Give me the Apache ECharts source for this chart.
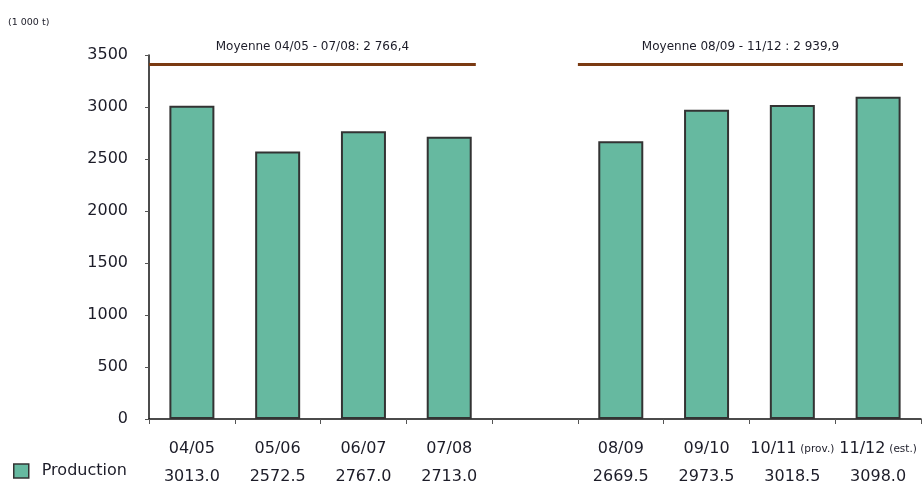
<!DOCTYPE html>
<html>
<head>
<meta charset="utf-8">
<script src="https://cdn.jsdelivr.net/npm/echarts@6/dist/echarts.min.js"></script>
<style>
  html, body { margin: 0; padding: 0; background: #ffffff; }
  #chart { width: 924px; height: 481px; }
</style>
</head>
<body>
<div id="chart"></div>
<script>
// Campaign years (an empty slot separates the two periods)
const categories = ['04/05', '05/06', '06/07', '07/08', '', '08/09', '09/10', '10/11', '11/12'];
const notes = ['', '', '', '', '', '', '', '(prov.)', '(est.)'];
// Production, thousand tonnes
const production = [3013.0, 2572.5, 2767.0, 2713.0, null, 2669.5, 2973.5, 3018.5, 3098.0];
// Period groupings for the averages
const periodNames = ['Moyenne 04/05 - 07/08: ', 'Moyenne 08/09 - 11/12 : '];
const periodIndices = [[0, 1, 2, 3], [5, 6, 7, 8]];

const FONT = 'DejaVu Sans, Verdana, sans-serif';
const TEXT = '#1c1c28';
const BAR = '#66b9a0';
const BROWN = '#7a3a12';

function frenchNumber(v) {
  const parts = v.toFixed(1).split('.');
  const intPart = parts[0].replace(/\B(?=(\d{3})+(?!\d))/g, ' ');
  return intPart + ',' + parts[1];
}

const averages = periodIndices.map(idx => idx.reduce((s, i) => s + production[i], 0) / idx.length);

// Horizontal brackets above each period (in category-width units), carrying the average
const bracketLevel = 3415;
const bracketSpans = [[0, 3.81], [5.0, 8.79]];

const bracketSeries = bracketSpans.map((span, k) => ({
  type: 'line',
  xAxisIndex: 1,
  data: [],
  silent: true,
  markLine: {
    silent: true,
    symbol: ['none', 'none'],
    lineStyle: { color: BROWN, width: 3, type: 'solid' },
    label: {
      show: true,
      position: 'insideMiddleTop',
      distance: 11,
      color: TEXT,
      fontSize: 12,
      fontFamily: FONT,
      formatter: periodNames[k] + frenchNumber(averages[k])
    },
    emphasis: { disabled: true },
    data: [[{ coord: [span[0], bracketLevel] }, { coord: [span[1], bracketLevel] }]]
  }
}));

const chart = echarts.init(document.getElementById('chart'));
chart.setOption({
  animation: false,
  backgroundColor: '#ffffff',
  textStyle: { fontFamily: FONT },
  grid: { left: 149, right: 3, top: 55, bottom: 62, containLabel: false, outerBoundsMode: 'none' },
  legend: {
    data: ['Production'],
    left: 13,
    top: 463,
    padding: 0,
    icon: 'rect',
    itemWidth: 15,
    itemHeight: 14,
    itemStyle: { color: BAR, borderColor: '#333333', borderWidth: 1.5 },
    textStyle: { color: TEXT, fontSize: 16, fontFamily: FONT, padding: [0, 0, 0, 8] }
  },
  graphic: [{
    type: 'text',
    left: 8,
    top: 18,
    style: { text: '(1 000 t)', fill: TEXT, fontSize: 9.5, fontFamily: FONT }
  }],
  xAxis: [{
    type: 'category',
    data: categories,
    boundaryGap: true,
    axisLine: { lineStyle: { color: '#111111', width: 1.5 } },
    axisTick: { show: true, interval: 0, length: 5, lineStyle: { color: '#555555' } },
    axisLabel: {
      interval: 0,
      margin: 20,
      fontFamily: FONT,
      formatter: function (value, index) {
        if (!value) return '';
        const note = notes[index] ? ' {n|' + notes[index] + '}' : '';
        return '{c|' + value + '}' + note + '\n{v|' + production[index].toFixed(1) + '}';
      },
      rich: {
        c: { fontSize: 16, color: TEXT, lineHeight: 20, fontFamily: FONT },
        n: { fontSize: 10.5, color: TEXT, lineHeight: 20, fontFamily: FONT },
        v: { fontSize: 16, color: TEXT, lineHeight: 36, fontFamily: FONT }
      }
    }
  }, {
    type: 'value',
    min: 0,
    max: categories.length,
    show: false
  }],
  yAxis: {
    type: 'value',
    min: 0,
    max: 3500,
    interval: 500,
    splitLine: { show: false },
    axisLine: { show: true, lineStyle: { color: '#111111', width: 1.5 } },
    axisTick: { show: true, length: 4, lineStyle: { color: '#555555' } },
    axisLabel: {
      color: TEXT,
      fontSize: 16,
      fontFamily: FONT,
      margin: 21,
      formatter: v => String(v)
    }
  },
  series: [{
    name: 'Production',
    type: 'bar',
    xAxisIndex: 0,
    data: production,
    barWidth: 45,
    itemStyle: { color: BAR, borderColor: '#333333', borderWidth: 2 },
    emphasis: { disabled: true }
  }].concat(bracketSeries)
});
</script>
</body>
</html>
